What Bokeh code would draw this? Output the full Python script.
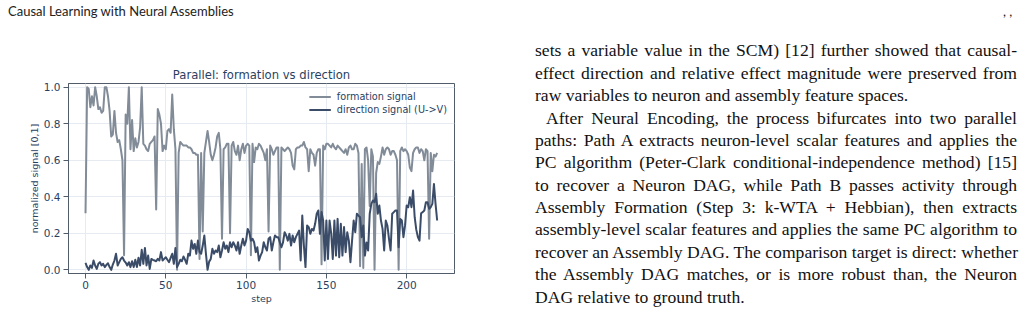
import html as _html
from bokeh.plotting import figure
from bokeh.layouts import column, row
from bokeh.models import (Range1d, FixedTicker, NumeralTickFormatter, Legend, LegendItem, Div)
from bokeh.embed import file_html
from bokeh.resources import INLINE

# ---------------- data ----------------
chart_title = "Parallel: formation vs direction"
series_names = ["formation signal", "direction signal (U->V)"]
x_label = "step"
y_label = "normalized signal [0,1]"
x_ticks = [0, 50, 100, 150, 200]
y_ticks = [0.0, 0.2, 0.4, 0.6, 0.8, 1.0]

formation_signal = [
    0.31, 1.00, 0.99, 0.89, 0.95, 0.90, 1.00, 0.95, 0.88, 0.89,
    0.86, 0.87, 1.00, 1.00, 0.95, 0.87, 0.73, 0.74, 0.87, 0.75,
    0.70, 0.71, 0.66, 0.60, 0.08, 0.85, 0.80, 1.00, 0.66, 0.82,
    0.65, 0.72, 0.67, 0.70, 0.78, 1.00, 0.69, 0.68, 0.66, 0.65,
    0.69, 0.70, 0.71, 0.73, 0.33, 0.88, 0.85, 0.80, 0.65, 0.68,
    0.66, 0.76, 0.77, 0.75, 0.96, 0.77, 0.66, 0.00, 0.64, 0.70,
    0.69, 0.68, 0.68, 0.68, 0.67, 0.67, 0.66, 0.64, 0.64, 0.63,
    0.63, 0.06, 0.64, 0.21, 0.64, 0.70, 0.76, 0.70, 0.63, 0.60,
    0.63, 0.67, 0.73, 0.75, 0.66, 0.17, 0.66, 0.67, 0.69, 0.69,
    0.20, 0.68, 0.70, 0.65, 0.63, 0.68, 0.60, 0.66, 0.69, 0.64,
    0.68, 0.69, 0.68, 0.08, 0.69, 0.59, 0.67, 0.66, 0.69, 0.68,
    0.66, 0.64, 0.60, 0.66, 0.21, 0.68, 0.66, 0.63, 0.65, 0.67,
    0.67, 0.00, 0.67, 0.66, 0.65, 0.66, 0.67, 0.66, 0.64, 0.57,
    0.55, 0.66, 0.67, 0.67, 0.68, 0.68, 0.70, 0.67, 0.66, 0.54,
    0.66, 0.64, 0.63, 0.57, 0.64, 0.66, 0.66, 0.03, 0.68, 0.66,
    0.69, 0.69, 0.68, 0.67, 0.69, 0.67, 0.66, 0.68, 0.67, 0.66,
    0.65, 0.64, 0.66, 0.63, 0.67, 0.68, 0.66, 0.66, 0.69, 0.68,
    0.64, 0.02, 0.58, 0.01, 0.66, 0.67, 0.60, 0.35, 0.66, 0.62,
    0.00, 0.53, 0.59, 0.58, 0.62, 0.67, 0.63, 0.66, 0.67, 0.66,
    0.63, 0.65, 0.65, 0.63, 0.60, 0.00, 0.65, 0.67, 0.65, 0.66,
    0.65, 0.63, 0.56, 0.54, 0.64, 0.66, 0.67, 0.67, 0.64, 0.66,
    0.65, 0.60, 0.66, 0.65, 0.17, 0.64, 0.54, 0.63, 0.62, 0.64,
]

direction_signal = [
    0.038, 0.015, 0.0, 0.024, 0.011, 0.051, 0.024, 0.005, 0.033, 0.042,
    0.024, 0.033, 0.015, 0.027, 0.036, 0.015, 0.0, 0.029, 0.051, 0.088,
    0.024, 0.042, 0.06, 0.069, 0.051, 0.04, 0.024, 0.042, 0.015, 0.047,
    0.015, 0.055, 0.015, 0.066, 0.024, 0.11, 0.033, 0.12, 0.024, 0.078,
    0.005, 0.06, 0.055, 0.051, 0.047, 0.06, 0.051, 0.097, 0.051, 0.06,
    0.069, 0.055, 0.042, 0.066, 0.088, 0.033, 0.12, 0.015, 0.033, 0.055,
    0.047, 0.073, 0.055, 0.033, 0.088, 0.078, 0.16, 0.115, 0.142, 0.088,
    0.16, 0.097, 0.088, 0.133, 0.188, 0.088, 0.0, 0.045, 0.06, 0.115,
    0.088, 0.106, 0.097, 0.133, 0.069, 0.106, 0.151, 0.115, 0.133, 0.097,
    0.151, 0.124, 0.151, 0.133, 0.106, 0.151, 0.088, 0.133, 0.17, 0.133,
    0.16, 0.224,
    0.206, 0.16, 0.17, 0.151, 0.097, 0.124, 0.051, 0.078, 0.097, 0.151,
    0.124, 0.106, 0.17, 0.179, 0.106, 0.151, 0.188, 0.179, 0.179, 0.151,
    0.124, 0.15, 0.206, 0.188, 0.16, 0.197, 0.133, 0.188, 0.151, 0.179, 0.197,
    0.215, 0.051, 0.297, 0.133, 0.015, 0.243, 0.234, 0.197, 0.224, 0.215,
    0.252, 0.307, 0.325, 0.197, 0.316, 0.27, 0.051, 0.27, 0.06, 0.27, 0.2,
    0.06, 0.27, 0.078, 0.279, 0.069, 0.252, 0.078, 0.234, 0.097, 0.206,
    0.16, 0.042, 0.16, 0.27, 0.206, 0.307, 0.297, 0.288, 0.179, 0.243, 0.078, 0.15,
    0.106, 0.307, 0.361, 0.38, 0.37, 0.416, 0.307, 0.352, 0.27, 0.224,
    0.106, 0.27, 0.243, 0.17, 0.106, 0.307, 0.316, 0.325, 0.325, 0.124,
    0.279, 0.27, 0.179, 0.243, 0.352, 0.343, 0.398, 0.343, 0.434, 0.288, 0.22,
    0.179, 0.16, 0.31, 0.316, 0.325, 0.37, 0.37, 0.334, 0.343, 0.361, 0.47,
    0.361, 0.27,
]

steps_f = list(range(len(formation_signal)))
steps_d = list(range(len(direction_signal)))

header_text = "Causal Learning with Neural Assemblies"
header_right = ", ,"
paragraph_lines = [
    ("sets a variable value in the SCM) [12] further showed that causal-", True, False),
    ("effect direction and relative effect magnitude were preserved from", True, False),
    ("raw variables to neuron and assembly feature spaces.", False, False),
    ("After Neural Encoding, the process bifurcates into two parallel", True, True),
    ("paths: Path A extracts neuron-level scalar features and applies the", True, False),
    ("PC algorithm (Peter-Clark conditional-independence method) [15]", True, False),
    ("to recover a Neuron DAG, while Path B passes activity through", True, False),
    ("Assembly Formation (Step 3: k-WTA + Hebbian), then extracts", True, False),
    ("assembly-level scalar features and applies the same PC algorithm to", True, False),
    ("recover an Assembly DAG. The comparison target is direct: whether", True, False),
    ("the Assembly DAG matches, or is more robust than, the Neuron", True, False),
    ("DAG relative to ground truth.", False, False),
]

# ---------------- geometry / styles ----------------
W, H = 1024, 319
HEAD_H = 28                 # header strip height
CHART_W = 500               # chart figure width
FL, FR, FT, FB = 68, 454, 83, 273   # frame edges in page pixels
TXT = "#2a3f5f"
AX = "#515c6b"
GRID = "#e6ebf2"
C_FORM = "#828c98"
C_DIR = "#3b4c68"
SANS = "DejaVu Sans"

# ---------------- header strip (HTML text) ----------------
head_html = (
    '<div style="position:relative; width:%dpx; height:%dpx; margin:0; padding:0; '
    'font-family:Lato; font-size:13px; line-height:15.6px; color:#222;">'
    '<span style="position:absolute; left:8px; top:4px; white-space:nowrap;">%s</span>'
    '<span style="position:absolute; left:1003px; top:4px; white-space:nowrap;">%s</span>'
    '</div>' % (W, HEAD_H, _html.escape(header_text), _html.escape(header_right))
)
header_div = Div(text=head_html, width=W, height=HEAD_H, margin=0)

# ---------------- chart ----------------
CH = H - HEAD_H
p = figure(width=CHART_W, height=CH, output_backend="svg", toolbar_location=None,
           x_range=Range1d(-10.6, 229.8), y_range=Range1d(-0.02, 1.02),
           min_border_left=FL, min_border_right=CHART_W - FR,
           min_border_top=FT - HEAD_H, min_border_bottom=H - FB, title=chart_title)
p.background_fill_color = "white"
p.border_fill_color = "white"
p.outline_line_color = AX
p.outline_line_width = 1

p.title.align = "center"
p.title.text_font = SANS
p.title.text_font_size = "11.6px"
p.title.text_font_style = "normal"
p.title.text_color = TXT
p.title.standoff = 3

r1 = p.line(steps_f, formation_signal, line_color=C_FORM, line_width=2, line_join="round")
r2 = p.line(steps_d, direction_signal, line_color=C_DIR, line_width=2, line_join="round")

p.xaxis.ticker = FixedTicker(ticks=x_ticks)
p.yaxis.ticker = FixedTicker(ticks=y_ticks)
p.yaxis.formatter = NumeralTickFormatter(format="0.0")
p.xaxis.axis_label = x_label
p.yaxis.axis_label = y_label
for ax in (p.xaxis, p.yaxis):
    ax.axis_line_color = AX
    ax.major_tick_line_color = AX
    ax.major_tick_in = 0
    ax.major_tick_out = 5
    ax.minor_tick_line_color = None
    ax.major_label_text_font = SANS
    ax.major_label_text_font_size = "10.5px"
    ax.major_label_text_color = TXT
    ax.axis_label_text_font = SANS
    ax.axis_label_text_font_size = "9.5px"
    ax.axis_label_text_font_style = "normal"
    ax.axis_label_text_color = TXT
p.xaxis.major_label_standoff = 2
p.yaxis.major_label_standoff = 3
p.xaxis.axis_label_standoff = 1
p.yaxis.axis_label_standoff = 1
p.xgrid.grid_line_color = GRID
p.ygrid.grid_line_color = GRID

legend = Legend(items=[LegendItem(label=series_names[0], renderers=[r1]),
                       LegendItem(label=series_names[1], renderers=[r2])],
                location="top_right")
legend.label_text_font = SANS
legend.label_text_font_size = "9.7px"
legend.label_text_color = TXT
legend.glyph_width = 22
legend.glyph_height = 13
legend.label_height = 13
legend.label_standoff = 6
legend.spacing = 0
legend.padding = 4
legend.margin = 3
legend.border_line_alpha = 0
legend.background_fill_alpha = 0
p.add_layout(legend)

# ---------------- paragraph (HTML text, justified) ----------------
FS = 17.6
LEAD = 22.4
COL_L, COL_R = 535, 1017
BASE0 = 56.5
INDENT = 11
ASC, DESC = 0.891, 0.216          # Liberation Serif vertical metrics
baseline_in_line = (LEAD - (ASC + DESC) * FS) / 2 + ASC * FS
top_pad = (BASE0 - HEAD_H) - baseline_in_line

line_divs = []
for line, justify, indent in paragraph_lines:
    al = "justify" if justify else "left"
    line_divs.append(
        '<div style="height:%.1fpx; text-indent:%dpx; text-align:%s; text-align-last:%s; '
        'white-space:nowrap; overflow:visible;">%s</div>'
        % (LEAD, INDENT if indent else 0, al, al, _html.escape(line)))
para_html = (
    '<div style="position:relative; width:%dpx; height:%dpx; margin:0; padding:0; overflow:hidden;">'
    '<div style="position:absolute; left:%dpx; top:%.2fpx; width:%dpx; '
    'font-family:\'Liberation Serif\'; font-size:%.1fpx; line-height:%.1fpx; color:#111;">%s</div>'
    '</div>' % (W - CHART_W, CH, COL_L - CHART_W, top_pad, COL_R - COL_L, FS, LEAD,
                "".join(line_divs))
)
para_div = Div(text=para_html, width=W - CHART_W, height=CH, margin=0)

layout = column(header_div, row(p, para_div, spacing=0), spacing=0)
open("out.html", "w").write(file_html(layout, INLINE))
